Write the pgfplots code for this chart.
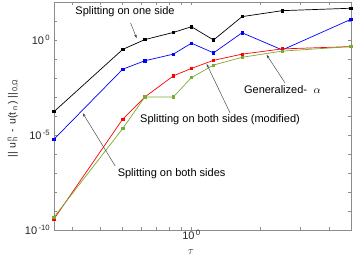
\documentclass[border=0pt]{standalone}
\usepackage{fontspec}
\setmainfont{Liberation Sans}
\usepackage{pgfplots}
\pgfplotsset{compat=1.18}
\usetikzlibrary{arrows.meta}
\definecolor{mgreen}{rgb}{0.466,0.674,0.188}
\definecolor{axgray}{gray}{0.55}
\begin{document}
\fontsize{11}{13}\selectfont
\begin{tikzpicture}
\begin{axis}[
  at={(0,0)}, anchor=south west,
  scale only axis, width=297pt, height=228pt,
  xmode=log, ymode=log,
  xmin=0.25, xmax=5, ymin=1e-10, ymax=1e2,
  xtick={1}, xticklabels={10\textsuperscript{\,0}},
  minor xtick={0.3,0.4,0.5,0.6,0.7,0.8,0.9,2,3,4},
  ytick={1e-10,1e-5,1},
  yticklabels={10\textsuperscript{\,-10},10\textsuperscript{\,-5},10\textsuperscript{\,0}},
  minor ytick={1e-9,1e-8,1e-7,1e-6,1e-4,1e-3,1e-2,1e-1,1e1},
  axis line style={axgray, line width=0.5pt},
  tick style={axgray, line width=0.5pt},
  major tick length=3.5pt, minor tick length=3.5pt,
  tick label style={text=black!85, font=\fontsize{11}{13}\selectfont},
  xticklabel style={yshift=1.5pt, inner sep=1pt},
  xlabel={$\tau$},
  xlabel style={at={(axis description cs:0.461,-0.098)}, anchor=center, text=black!85, inner sep=1pt},
  ylabel={|| u\rlap{\textsubscript{\,h}}\textsuperscript{\,n} \,-\, u(t\textsubscript{\,n}\,) ||\textsubscript{\,0,Ω}},
  ylabel style={at={(axis description cs:-0.138,0.49)}, anchor=center, text=black!85, font=\fontsize{10.5}{12}\selectfont},
  every axis plot/.append style={line width=0.7pt, mark=square*, mark size=1.2pt},
]
\addplot[black, mark options={fill=black}] coordinates {
 (0.25,1.7e-4) (0.5,0.32) (0.625,1.05) (0.8333,2.5) (1,5.0) (1.25,1.0) (1.6667,17) (2.5,35) (5,47)};
\addplot[blue, mark options={fill=blue}] coordinates {
 (0.25,6e-6) (0.5,0.029) (0.625,0.081) (0.8333,0.18) (1,0.68) (1.25,0.21) (1.6667,2.4) (2.5,0.30) (5,12.3)};
\addplot[red, mark options={fill=red}] coordinates {
 (0.25,3.8e-10) (0.5,6.9e-5) (0.625,1e-3) (0.8333,0.0129) (1,0.032) (1.25,0.085) (1.6667,0.18) (2.5,0.34) (5,0.45)};
\addplot[mgreen, mark options={fill=mgreen}] coordinates {
 (0.25,4.7e-10) (0.5,2.2e-5) (0.625,1e-3) (0.8333,1e-3) (1,0.0105) (1.25,0.048) (1.6667,0.123) (2.5,0.26) (5,0.45)};

\tikzset{arr/.style={draw=black!75, line width=0.45pt, -{Stealth[length=3.5pt,width=2.5pt]}}}
\node[text=black] at (rel axis cs:0.239,0.956) {Splitting on one side};
\draw[arr] (rel axis cs:0.258,0.908) -- (rel axis cs:0.278,0.842);
\node[text=black] at (rel axis cs:0.769,0.618) {Generalized-\hspace{0.6em}$\alpha$};
\draw[arr] (rel axis cs:0.778,0.645) -- (rel axis cs:0.716,0.768);
\node[text=black] at (rel axis cs:0.559,0.482) {Splitting on both sides (modified)};
\draw[arr] (rel axis cs:0.593,0.513) -- (rel axis cs:0.514,0.728);
\node[text=black] at (rel axis cs:0.396,0.249) {Splitting on both sides};
\draw[arr] (rel axis cs:0.206,0.281) -- (rel axis cs:0.097,0.512);
\end{axis}
\pgfresetboundingbox
\path (-54pt,-32pt) rectangle (300pt,230pt);
\end{tikzpicture}
\end{document}
